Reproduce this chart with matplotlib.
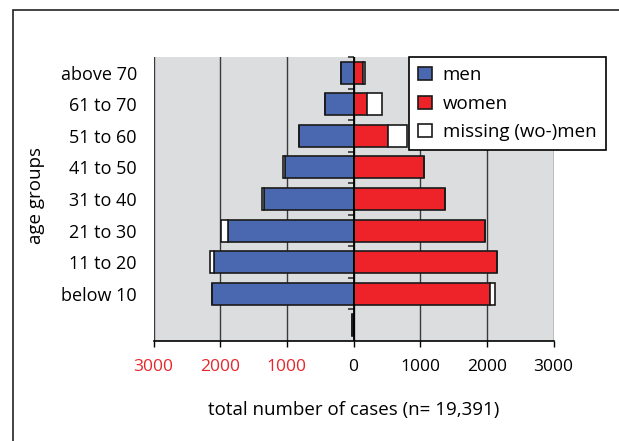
import numpy as np
import matplotlib
matplotlib.use('Agg')
import matplotlib.pyplot as plt
from matplotlib.patches import Rectangle, Patch

plt.rcParams['font.family'] = ['Open Sans', 'DejaVu Sans']

# age groups from bottom to top (bottom row = unknown age)
age_groups = ['', 'below 10', '11 to 20', '21 to 30', '31 to 40',
              '41 to 50', '51 to 60', '61 to 70', 'above 70']
men = [30, 2125, 2095, 1885, 1340, 1030, 820, 430, 185]
men_missing = [0, 0, 60, 105, 35, 30, 0, 0, 0]
women = [0, 2045, 2145, 1975, 1365, 1050, 520, 200, 140]
women_missing = [0, 75, 0, 0, 0, 0, 285, 225, 30]

x_ticks = [-3000, -2000, -1000, 0, 1000, 2000, 3000]
x_labels = ['3000', '2000', '1000', '0', '1000', '2000', '3000']

BLUE = '#4a68b0'
RED = '#ee2329'
GREY = '#dcdddf'
FS = 13

fig = plt.figure(figsize=(6.19, 4.41), dpi=100)
ax = fig.add_axes([153.5 / 619, 1 - 341 / 441, 400 / 619, 284 / 441])
ax.set_facecolor(GREY)

# outer frame (only left and top visible in the original)
fig.patches.append(Rectangle((13 / 619, -0.1), 1.2, 1 - 10 / 441 + 0.1,
                             transform=fig.transFigure, fill=False,
                             edgecolor='#222222', lw=1.2, zorder=0))

y = np.arange(len(age_groups))
men = np.array(men)
women = np.array(women)
h = 0.7
kw = dict(height=h, edgecolor='#1a1a1a', linewidth=1.2, zorder=3)
ax.barh(y, -men, color=BLUE, **kw)
ax.barh(y, -np.array(men_missing), left=-men, color='white', **kw)
ax.barh(y, women, color=RED, **kw)
ax.barh(y, women_missing, left=women, color='white', **kw)

for xv in x_ticks:
    ax.axvline(xv, color='#3a3a3a', lw=1.0, zorder=1)
ax.axvline(0, color='black', lw=1.3, zorder=4)

ax.set_xlim(-3000, 3000)
ax.set_ylim(-0.5, len(age_groups) - 0.5)

ax.set_xticks(x_ticks)
ax.set_xticklabels(x_labels)
for lbl, xv in zip(ax.get_xticklabels(), x_ticks):
    if xv < 0:
        lbl.set_color('#e8262b')
ax.tick_params(axis='x', direction='out', length=4, width=1, pad=9,
               labelsize=12.5)

ax.set_yticks(y)
ax.set_yticklabels(age_groups)
ax.tick_params(axis='y', which='major', length=0, pad=12, labelsize=FS)

# small marks between categories along the zero line
ax.spines['right'].set_position(('data', 0))
ax.spines['right'].set_visible(False)
ax.set_yticks(y + 0.5, minor=True)
ax.tick_params(axis='y', which='minor', left=False, right=True,
               direction='in', length=4, width=1.2, color='#333333')
ax.tick_params(axis='y', which='major', right=False, left=True)

for s in ['top', 'left']:
    ax.spines[s].set_visible(False)
ax.spines['bottom'].set_linewidth(1.2)

ax.set_xlabel('total number of cases (n= 19,391)', fontsize=13.5, labelpad=19)
fig.text(36 / 619, 1 - 196 / 441, 'age groups', rotation=90,
         ha='center', va='center', fontsize=13.5)

handles = [Patch(facecolor=BLUE, edgecolor='#1a1a1a', lw=1.2, label='men'),
           Patch(facecolor=RED, edgecolor='#1a1a1a', lw=1.2, label='women'),
           Patch(facecolor='white', edgecolor='#1a1a1a', lw=1.2,
                 label='missing (wo-)men')]
leg = fig.legend(handles=handles, loc='upper left',
                 bbox_to_anchor=(409 / 619, 1 - 57 / 441), fontsize=13.5,
                 frameon=True, fancybox=False, framealpha=1,
                 edgecolor='black', handlelength=0.7, handleheight=0.7,
                 handletextpad=0.6, labelspacing=0.55, borderpad=0.5,
                 borderaxespad=0)
leg.get_frame().set_linewidth(1.2)
leg.set_zorder(10)

plt.savefig('out.png', dpi=100)
